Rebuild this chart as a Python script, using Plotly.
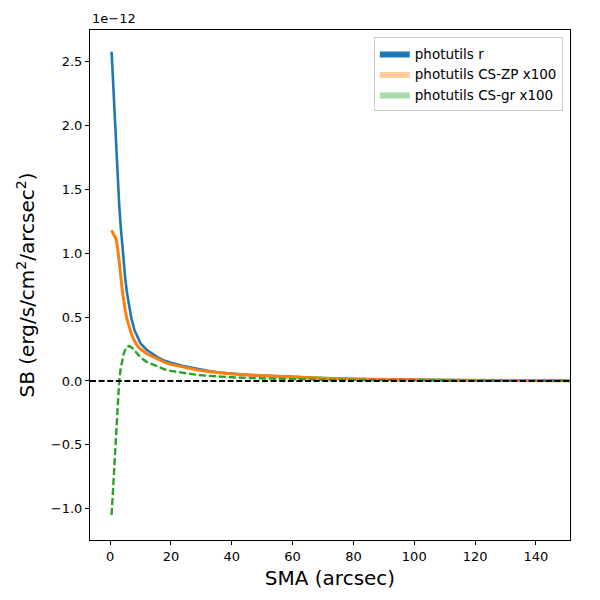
import plotly.graph_objects as go

# SMA (arcsec)
sma = [0.5, 1, 1.5, 2, 2.5, 3, 3.5, 4, 4.5, 5, 5.5, 6.2, 7, 8, 9, 10, 12, 14, 16, 18,
       20, 24, 28, 32, 36, 40, 45, 50, 60, 70, 80, 90, 100, 110, 120, 130, 140, 152]

# surface brightness in units of 1e-12 erg/s/cm^2/arcsec^2
sb_r = [2.58, 2.33, 2.08, 1.84, 1.60, 1.38, 1.21, 1.06, 0.92, 0.80, 0.70, 0.59, 0.49, 0.40,
        0.34, 0.295, 0.245, 0.21, 0.18, 0.158, 0.142, 0.118, 0.097, 0.080, 0.066, 0.057,
        0.049, 0.042, 0.031, 0.022, 0.016, 0.012, 0.009, 0.007, 0.005, 0.004, 0.003, 0.002]
sb_zp = [1.18, 1.16, 1.14, 1.11, 1.04, 0.95, 0.83, 0.71, 0.62, 0.55, 0.49, 0.425, 0.37, 0.315,
         0.275, 0.25, 0.215, 0.19, 0.165, 0.145, 0.13, 0.107, 0.089, 0.074, 0.063, 0.054,
         0.047, 0.041, 0.030, 0.021, 0.015, 0.011, 0.008, 0.006, 0.005, 0.004, 0.003, 0.002]
sb_gr = [-1.05, -0.82, -0.62, -0.38, -0.17, 0.0, 0.10, 0.17, 0.215, 0.245, 0.265, 0.275, 0.265,
         0.24, 0.21, 0.185, 0.15, 0.128, 0.107, 0.09, 0.079, 0.062, 0.050, 0.041, 0.034, 0.029,
         0.024, 0.020, 0.014, 0.010, 0.008, 0.006, 0.005, 0.004, 0.003, 0.003, 0.002, 0.002]

# uncertainties (same units)
err_r = [0.02, 0.02, 0.02, 0.015, 0.015, 0.012, 0.01, 0.01, 0.008, 0.008, 0.007, 0.006, 0.006,
         0.005, 0.005, 0.005, 0.004, 0.004, 0.004, 0.004, 0.004, 0.004, 0.004, 0.004, 0.004,
         0.004, 0.004, 0.004, 0.004, 0.004, 0.004, 0.003, 0.003, 0.003, 0.002, 0.002, 0.002, 0.002]
err_zp = [0.01, 0.01, 0.01, 0.008, 0.008, 0.007, 0.006, 0.005, 0.005, 0.004, 0.004, 0.004, 0.003,
          0.003, 0.003, 0.003, 0.002, 0.002, 0.002, 0.002, 0.002, 0.002, 0.002, 0.002, 0.002,
          0.002, 0.002, 0.002, 0.002, 0.002, 0.002, 0.002, 0.002, 0.002, 0.001, 0.001, 0.001, 0.001]
err_gr = err_zp

labels = ["photutils r", "photutils CS-ZP x100", "photutils CS-gr x100"]
line_colors = ["#1f77b4", "#ff7f0e", "#2ca02c"]
fill_colors = ["rgba(31,119,180,1)", "rgba(255,127,14,0.4)", "rgba(44,160,44,0.4)"]
dashes = ["solid", "solid", "7px,3px"]
widths = [2.6, 3, 2.4]

x_ticks = [0, 20, 40, 60, 80, 100, 120, 140]
y_ticks = [-1.0, -0.5, 0.0, 0.5, 1.0, 1.5, 2.0, 2.5]

fig = go.Figure()
series = [(sb_r, err_r), (sb_zp, err_zp), (sb_gr, err_gr)]
for i, (vals, errs) in enumerate(series):
    upper = [v + e for v, e in zip(vals, errs)]
    lower = [v - e for v, e in zip(vals, errs)]
    fig.add_trace(go.Scatter(
        x=sma + sma[::-1], y=upper + lower[::-1], fill="toself",
        fillcolor=fill_colors[i], line=dict(width=0), mode="lines",
        name=labels[i], showlegend=True, hoverinfo="skip"))
for i, (vals, errs) in enumerate(series):
    fig.add_trace(go.Scatter(
        x=sma, y=vals, mode="lines", showlegend=False,
        line=dict(color=line_colors[i], width=widths[i], dash=dashes[i])))

fig.add_shape(type="line", xref="paper", x0=0, x1=1, yref="y", y0=0, y1=0,
              line=dict(color="black", width=1.8, dash="6px,2.6px"))

axis_common = dict(showgrid=False, zeroline=False, showline=True, linecolor="black",
                   linewidth=1, mirror=True, ticks="outside", ticklen=4, tickcolor="black",
                   tickfont=dict(size=13, color="black"))

fig.update_layout(
    width=592, height=592,
    margin=dict(l=82, r=30, t=22, b=60),
    paper_bgcolor="white", plot_bgcolor="white",
    font=dict(family="DejaVu Sans", color="black"),
    xaxis=dict(range=[-6.6, 151.2], tickvals=x_ticks,
               title=dict(text="SMA (arcsec)", font=dict(size=20), standoff=8),
               **axis_common),
    yaxis=dict(range=[-1.246, 2.75], tickvals=y_ticks, tickformat=".1f",
               title=dict(text="SB (erg/s/cm<sup>2</sup>/arcsec<sup>2</sup>)", font=dict(size=20),
                          standoff=10),
               **axis_common),
    legend=dict(x=0.985, y=0.986, xanchor="right", yanchor="top",
                bgcolor="rgba(255,255,255,0.8)", bordercolor="#cccccc", borderwidth=1,
                font=dict(size=13.5), tracegroupgap=0),
    annotations=[dict(text="1e\u221212", xref="paper", yref="paper", x=0, y=1,
                      xanchor="left", yanchor="bottom", showarrow=False,
                      font=dict(size=13), yshift=2)],
)

fig.write_html("out.html")
